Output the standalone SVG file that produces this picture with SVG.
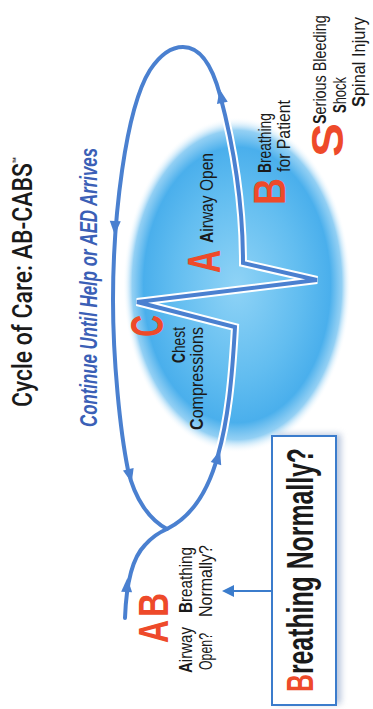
<svg xmlns="http://www.w3.org/2000/svg" width="373" height="709" viewBox="0 0 373 709">
<style>
.t{font-family:"Liberation Sans",Arial,sans-serif;fill:#1a1a1a}
.red{font-family:"Liberation Sans",Arial,sans-serif;font-weight:bold;fill:#ee4a2a}
.lab{font-size:18px}
.b{font-weight:bold}
.loop{fill:none;stroke:#4a80d0;stroke-width:4;stroke-linejoin:miter;stroke-linecap:round}
.halo{fill:none;stroke:#ffffff;stroke-width:8;stroke-linejoin:miter}
.ah{fill:#4a80d0}
</style>
<defs>
<radialGradient id="blob" cx="0.5" cy="0.5" r="0.5">
<stop offset="0" stop-color="#8fd3f6"/>
<stop offset="0.55" stop-color="#62bdf0"/>
<stop offset="0.82" stop-color="#4aafec"/>
<stop offset="0.92" stop-color="#6fc0f0" stop-opacity="0.75"/>
<stop offset="1" stop-color="#ffffff" stop-opacity="0"/>
</radialGradient>
<filter id="blur" x="-20%" y="-20%" width="140%" height="140%"><feGaussianBlur stdDeviation="3"/></filter>
<path id="arr" d="M7 0 L-7 -5.5 L-7 5.5 Z"/>
</defs>

<g id="background">
<ellipse cx="237" cy="285" rx="114" ry="168" fill="url(#blob)"/>
</g>

<g id="title">
<text font-family="Roboto,'Liberation Sans',Arial,sans-serif" font-weight="500" fill="#1a1a1a" font-size="28" transform="translate(32,407) rotate(-90)" textLength="250" lengthAdjust="spacingAndGlyphs">Cycle of Care: AB-CABS<tspan font-size="12" dy="-11">™</tspan></text>
<text font-family="Liberation Sans,Arial,sans-serif" font-weight="bold" font-style="italic" font-size="23" fill="#3b5fb6" transform="translate(97,427) rotate(-90)" textLength="279" lengthAdjust="spacingAndGlyphs">Continue Until Help or AED Arrives</text>
</g>

<g id="connectors">
<path class="halo" d="M167 529 C150 520 135 500 128 470 C120 430 113 360 113 300 C113 220 125 110 150 70 C160 55 172 47 183 47 C200 47 212 65 220 95 C232 140 243 200 243 263 L317 280 L137 302 L235 327 C232 380 228 420 218 455 C210 485 195 515 167 529"/>
<path class="loop" d="M125 618 C126 590 130 560 145 545 C152 537 160 532 167 529"/>
<path class="loop" d="M167 529 C150 520 135 500 128 470 C120 430 113 360 113 300 C113 220 125 110 150 70 C160 55 172 47 183 47 C200 47 212 65 220 95 C232 140 243 200 243 263 L317 280 L137 302 L235 327 C232 380 228 420 218 455 C210 485 195 515 167 529"/>
<use href="#arr" class="ah" transform="translate(127,585) rotate(-87)"/>
<use href="#arr" class="ah" transform="translate(130,476) rotate(76)"/>
<use href="#arr" class="ah" transform="translate(115,228) rotate(92)"/>
<use href="#arr" class="ah" transform="translate(218,457) rotate(-73)"/>
<use href="#arr" class="ah" transform="translate(221,96) rotate(-101)"/>
<line x1="272" y1="591" x2="232" y2="591" stroke="#3b7ccc" stroke-width="2"/>
<path d="M222 591 L234 585 L234 597 Z" fill="#3b7ccc"/>
</g>

<g id="node-C">
<text class="red" font-size="46" transform="translate(163,337) rotate(-90)" textLength="22" lengthAdjust="spacingAndGlyphs">C</text>
<text class="t lab" transform="translate(185,363) rotate(-90)" textLength="36" lengthAdjust="spacingAndGlyphs"><tspan class="b">C</tspan>hest</text>
<text class="t lab" transform="translate(203,430) rotate(-90)" textLength="103" lengthAdjust="spacingAndGlyphs"><tspan class="b">C</tspan>ompressions</text>
</g>

<g id="node-A">
<text class="red" font-size="46" transform="translate(220,273) rotate(-90)" textLength="23" lengthAdjust="spacingAndGlyphs">A</text>
<text class="t lab" transform="translate(213,243) rotate(-90)" textLength="90" lengthAdjust="spacingAndGlyphs"><tspan class="b">A</tspan>irway Open</text>
</g>

<g id="node-B">
<text class="red" font-size="44" transform="translate(285,205) rotate(-90)" textLength="27" lengthAdjust="spacingAndGlyphs">B</text>
<text class="t lab" transform="translate(271,173) rotate(-90)" textLength="60" lengthAdjust="spacingAndGlyphs"><tspan class="b">B</tspan>reathing</text>
<text class="t lab" transform="translate(290,172) rotate(-90)" textLength="72" lengthAdjust="spacingAndGlyphs">for Patient</text>
</g>

<g id="node-S">
<text class="red" font-size="44" transform="translate(343,157) rotate(-90)" textLength="34" lengthAdjust="spacingAndGlyphs">S</text>
<text class="t lab" transform="translate(326,124) rotate(-90) scale(0.8,1)"><tspan class="b">S</tspan>erious Bleeding</text>
<text class="t lab" transform="translate(346,113) rotate(-90)" textLength="36" lengthAdjust="spacingAndGlyphs"><tspan class="b">S</tspan>hock</text>
<text class="t lab" transform="translate(365,107) rotate(-90)" textLength="90" lengthAdjust="spacingAndGlyphs"><tspan class="b">S</tspan>pinal Injury</text>
</g>

<g id="node-AB">
<text class="red" font-size="42" transform="translate(168,643) rotate(-90)" textLength="23" lengthAdjust="spacingAndGlyphs">A</text>
<text class="red" font-size="42" transform="translate(168,617) rotate(-90)" textLength="24" lengthAdjust="spacingAndGlyphs">B</text>
<text class="t lab" transform="translate(192,673) rotate(-90)" textLength="46" lengthAdjust="spacingAndGlyphs"><tspan class="b">A</tspan>irway</text>
<text class="t lab" transform="translate(212,670) rotate(-90)" textLength="37" lengthAdjust="spacingAndGlyphs">Open?</text>
<text class="t lab" transform="translate(192,613) rotate(-90)" textLength="66" lengthAdjust="spacingAndGlyphs"><tspan class="b">B</tspan>reathing</text>
<text class="t lab" transform="translate(212,617) rotate(-90)" textLength="72" lengthAdjust="spacingAndGlyphs">Normally?</text>
</g>

<g id="node-box">
<rect x="277" y="434" width="64" height="270" fill="#8aa0c6" opacity="0.6" filter="url(#blur)"/>
<rect x="272" y="436" width="64" height="269" fill="#ffffff" stroke="#3b7ccc" stroke-width="2"/>
<text class="t" font-size="36" font-weight="bold" transform="translate(313,692) rotate(-90)" textLength="244" lengthAdjust="spacingAndGlyphs"><tspan fill="#ee4a2a">B</tspan>reathing Normally?</text>
</g>
</svg>
